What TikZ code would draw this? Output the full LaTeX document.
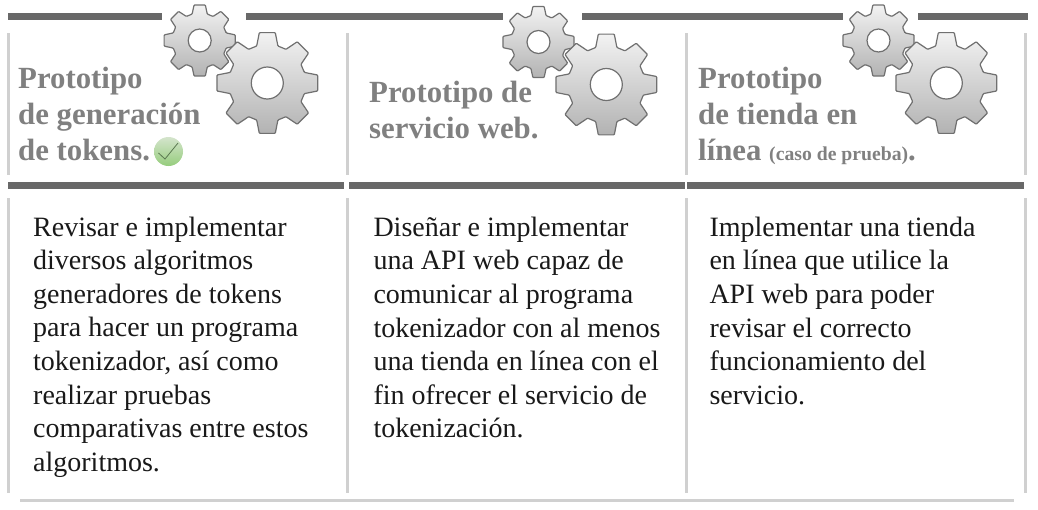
\documentclass[tikz,border=0pt]{standalone}
\usepackage{fontspec}
\setmainfont{Liberation Serif}
\usetikzlibrary{shadings}
\definecolor{bar}{RGB}{104,104,104}
\definecolor{rule}{RGB}{208,208,208}
\definecolor{titlec}{RGB}{128,128,128}
\definecolor{gearl}{RGB}{112,112,112}
\definecolor{chktop}{RGB}{212,228,204}
\definecolor{chkbot}{RGB}{150,205,125}
\definecolor{chkln}{RGB}{90,120,80}
\newcommand{\gtooth}[5]{-- ({#1+#4*cos(#5-16)},{#2+#4*sin(#5-16)}) -- ({#1+#3*cos(#5-9)},{#2+#3*sin(#5-9)}) -- ({#1+#3*cos(#5+9)},{#2+#3*sin(#5+9)}) -- ({#1+#4*cos(#5+16)},{#2+#4*sin(#5+16)})}
% cx cy R r hole rot
\newcommand{\gear}[6]{%
\shadedraw[gearstyle,rounded corners=0.8pt]
 ({#1+#4*cos(#6-16)},{#2+#4*sin(#6-16)})
 \gtooth{#1}{#2}{#3}{#4}{#6}
 \gtooth{#1}{#2}{#3}{#4}{#6+45}
 \gtooth{#1}{#2}{#3}{#4}{#6+90}
 \gtooth{#1}{#2}{#3}{#4}{#6+135}
 \gtooth{#1}{#2}{#3}{#4}{#6+180}
 \gtooth{#1}{#2}{#3}{#4}{#6+225}
 \gtooth{#1}{#2}{#3}{#4}{#6+270}
 \gtooth{#1}{#2}{#3}{#4}{#6+315}
 -- cycle
 [sharp corners] (#1,#2) circle ({#5});}
\tikzset{
 x=1pt,y=-1pt,
 gearstyle/.style={draw=gearl,line width=1.2pt,even odd rule,top color=white!95!black,bottom color=white!70!black},
 thickbar/.style={bar,line width=7pt},
 thinrule/.style={rule,line width=3pt},
 titletext/.style={anchor=base west,inner sep=0pt,align=left,text=titlec,font=\fontsize{30.8}{36}\selectfont\bfseries},
 bodytext/.style={anchor=base west,inner sep=0pt,align=left,text=black!90,font=\fontsize{28}{33.6}\selectfont},
}
\begin{document}
\begin{tikzpicture}
\useasboundingbox (0,0) rectangle (1038,509);
% top bars
\draw[thickbar] (8,16.5) -- (162,16.5);
\draw[thickbar] (246,16.5) -- (503,16.5);
\draw[thickbar] (582,16.5) -- (843,16.5);
\draw[thickbar] (918,16.5) -- (1028,16.5);
% mid bars
\draw[thickbar] (8,185) -- (344,185);
\draw[thickbar] (349,185) -- (685,185);
\draw[thickbar] (687,185) -- (1024,185);
% vertical rules
\foreach \x in {8.5,347.5,686,1025}{
 \draw[thinrule] (\x,33) -- (\x,175);
 \draw[thinrule] (\x,198) -- (\x,493);
}
\draw[thinrule] (20,500) -- (1014,500);
% gears
\gear{199.7}{40.5}{36}{27.5}{11.5}{0}
\gear{267.3}{83}{51}{38.5}{16}{0}
\gear{538.5}{42}{36}{27.5}{11.5}{0}
\gear{606.3}{84.5}{51}{38.5}{16}{0}
\gear{878.5}{40.5}{36}{27.5}{11.5}{0}
\gear{946.3}{83}{51}{38.5}{16}{0}
% check icon
\shade[top color=chktop,bottom color=chkbot] (168.5,151.5) circle (14.5);
\draw[chkln,line width=.8pt] (158.5,153) -- (165,159) -- (178,143);
% titles
\node[titletext] (t1) at (18,160) {Prototipo\\de generación\\de tokens.};
\node[titletext] (t2) at (369,138) {Prototipo de\\servicio web.};
\node[titletext] (t3) at (698,160) {Prototipo\\de tienda en\\línea {\fontsize{19.7}{24}\selectfont (caso de prueba)}.};
% bodies
\node[bodytext] (b1) at (33,471.3) {Revisar e implementar\\diversos algoritmos\\generadores de tokens\\para hacer un programa\\tokenizador, así como\\realizar pruebas\\comparativas entre estos\\algoritmos.};
\node[bodytext] (b2) at (373.3,437.8) {Diseñar e implementar\\una API web capaz de\\comunicar al programa\\tokenizador con al menos\\una tienda en línea con el\\fin ofrecer el servicio de\\tokenización.};
\node[bodytext] (b3) at (709.3,404.2) {Implementar una tienda\\en línea que utilice la\\API web para poder\\revisar el correcto\\funcionamiento del\\servicio.};
\end{tikzpicture}
\end{document}
